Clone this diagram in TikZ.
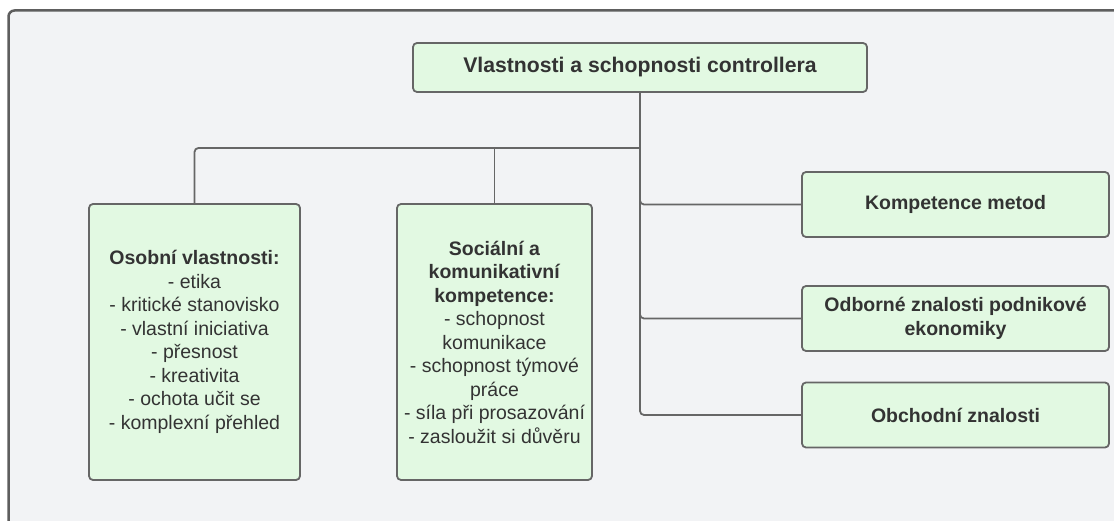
\documentclass[tikz,border=0pt]{standalone}
\usepackage{fontspec}
\setmainfont{Liberation Sans}
\definecolor{bgc}{HTML}{F2F3F5}
\definecolor{boxfill}{HTML}{E2F9E2}
\definecolor{boxline}{HTML}{666666}
\definecolor{txt}{HTML}{333333}
\definecolor{framec}{HTML}{5E5E5E}
\tikzset{
  card/.style={draw=boxline, line width=1.8pt, fill=boxfill, rounded corners=4pt,
    text=txt, align=center, inner sep=2pt, font=\fontsize{19.5}{23.5}\selectfont},
  headcard/.style={card, font=\fontsize{19.5}{23.5}\selectfont\bfseries},
  conn/.style={draw=boxline, line width=1.8pt, rounded corners=4pt},
}
\begin{document}
\begin{tikzpicture}[x=1pt,y=-1pt]
\useasboundingbox (0,0) rectangle (1114,521);
\fill[white] (0,0) rectangle (1114,521);
\begin{scope}
\clip (0,0) rectangle (1114,521);
\draw[framec, line width=2.5pt, fill=bgc, rounded corners=6pt] (8.5,10.5) rectangle (1140,560);
\end{scope}

\node[card, minimum width=454pt, minimum height=49pt, font=\fontsize{21.2}{25}\selectfont\bfseries] (top) at (640,67.5) {Vlastnosti a schopnosti controllera};

\node[card, minimum width=211pt, minimum height=276pt] (osob) at (194.5,342)
  {\textbf{Osobní vlastnosti:}\\- etika\\- kritické stanovisko\\- vlastní iniciativa\\- přesnost\\- kreativita\\- ochota učit se\\- komplexní přehled};

\node[card, minimum width=195pt, minimum height=276pt] (soc) at (494.5,342)
  {\textbf{Sociální a}\\\textbf{komunikativní}\\\textbf{kompetence:}\\- schopnost\\komunikace\\- schopnost týmové\\práce\\- síla při prosazování\\- zasloužit si důvěru};

\node[headcard, minimum width=307pt, minimum height=65pt] (komp) at (955.5,204.5) {Kompetence metod};
\node[headcard, minimum width=307pt, minimum height=65pt] (odb) at (955.5,318.5) {Odborné znalosti podnikové\\ekonomiky};
\node[headcard, minimum width=307pt, minimum height=65pt] (obch) at (955.5,415) {Obchodní znalosti};

\coordinate (hub) at (640,148);
\draw[conn] (top.south) -- (hub);
\draw[conn] (hub) -| (osob.north);
\draw[conn] (hub -| soc.north) -- (soc.north);
\draw[conn] (hub) |- (komp.west);
\draw[conn] (hub) |- (odb.west);
\draw[conn] (hub) |- (obch.west);
\end{tikzpicture}
\end{document}
